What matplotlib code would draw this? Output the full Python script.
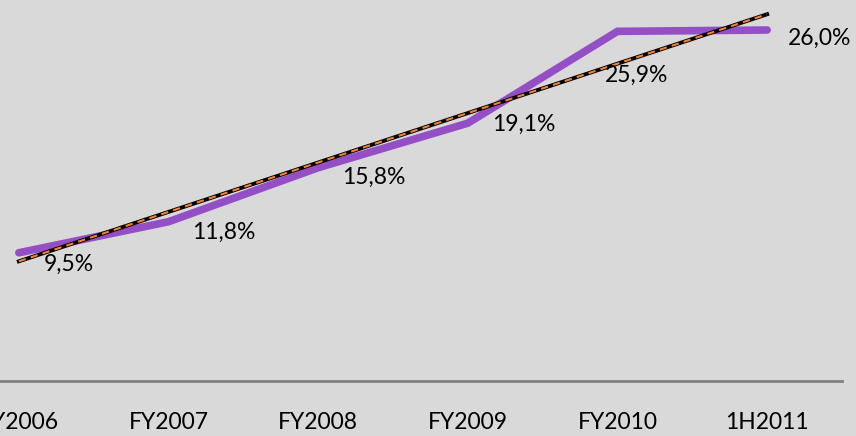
import numpy as np
import matplotlib
matplotlib.use("Agg")
import matplotlib.pyplot as plt

# Daten
kategorien = ["FY2006", "FY2007", "FY2008", "FY2009", "FY2010", "1H2011"]
werte = [9.5, 11.8, 15.8, 19.1, 25.9, 26.0]
beschriftungen = ["9,5%", "11,8%", "15,8%", "19,1%", "25,9%", "26,0%"]

# Versatz der Beschriftungen in Punkten (dx, dy)
label_offsets = [(36, -8), (40, -8), (40, -7), (40, -1), (14, -32), (38, -6)]

plt.rcParams['font.family'] = ['Lato', 'DejaVu Sans']

BG = "#d9d9d9"
fig = plt.figure(figsize=(8.56, 4.36), dpi=100, facecolor=BG)
ax = fig.add_axes([-0.0654, 0.1261, 1.049, 0.867])
ax.set_facecolor(BG)

x = np.arange(len(kategorien))

# Hauptlinie
ax.plot(x, werte, color="#954fc6", lw=5.5, solid_capstyle="round",
        solid_joinstyle="miter", zorder=3)

# Lineare Trendlinie
steigung, achse = np.polyfit(x, werte, 1)
trend = steigung * x + achse
ax.plot(x, trend, color="black", lw=2.8, zorder=4)
ax.plot(x, trend, color="#f5822e", lw=1.5, dashes=(3.5, 2.5), zorder=5)

# Datenbeschriftungen
for xi, yi, txt, (dx, dy) in zip(x, werte, beschriftungen, label_offsets):
    ax.annotate(txt, (xi, yi), xytext=(dx, dy), textcoords="offset points",
                ha="center", va="center", fontsize=16.5, color="black", zorder=6)

ax.set_xlim(-0.5, 5.5)
ax.set_ylim(0, 28)
ax.set_xticks(x)
ax.set_xticklabels(kategorien, fontsize=16.5)
ax.tick_params(axis="x", length=0, pad=22)
ax.set_yticks([])

for s in ["top", "left", "right"]:
    ax.spines[s].set_visible(False)
ax.spines["bottom"].set_color("#808080")
ax.spines["bottom"].set_linewidth(2)

fig.savefig("out.png", dpi=100, facecolor=BG)
